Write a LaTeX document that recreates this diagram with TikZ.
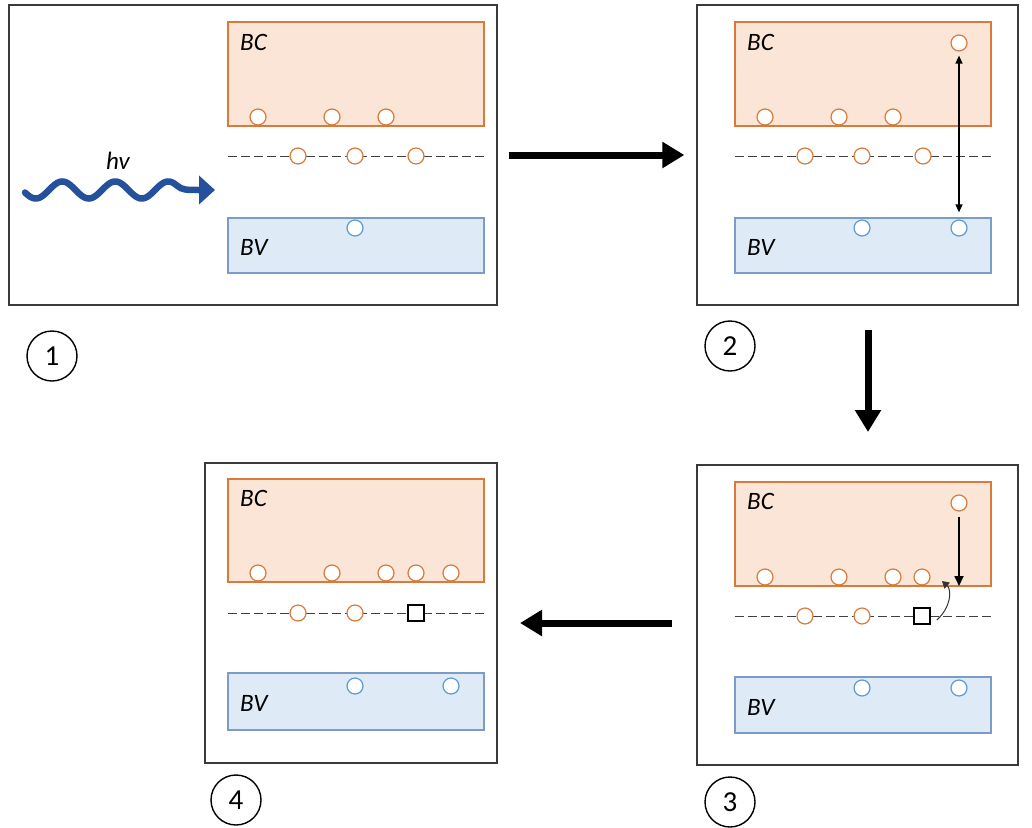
\documentclass[tikz,border=0pt]{standalone}
\usepackage{fontspec}
\setmainfont{Carlito}
\usetikzlibrary{arrows.meta}
\definecolor{orD}{HTML}{D9793A}
\definecolor{orL}{HTML}{FBE5D6}
\definecolor{blD}{HTML}{7C9CC8}
\definecolor{blL}{HTML}{DEEAF6}
\definecolor{blC}{HTML}{5B9BD5}
\definecolor{wave}{HTML}{24509C}
\definecolor{frame}{HTML}{3A3A3A}
\tikzset{
  panel/.style={draw=frame, line width=1.3pt, minimum height=300pt, inner sep=0pt},
  bcbox/.style={draw=orD, fill=orL, line width=1.2pt, minimum width=256pt, inner sep=0pt},
  bvbox/.style={draw=blD, fill=blL, line width=1.2pt, minimum width=256pt, inner sep=0pt},
  ec/.style={circle, draw=orD, fill=white, line width=1.2pt, minimum size=16pt, inner sep=0pt},
  hc/.style={circle, draw=blC, fill=white, line width=1.2pt, minimum size=16pt, inner sep=0pt},
  trap/.style={draw=black, fill=white, line width=1.8pt, minimum size=16pt, inner sep=0pt},
  numc/.style={circle, draw=black, line width=1.4pt, minimum size=50pt, inner sep=0pt, font=\fontsize{29}{32}\selectfont},
  lab/.style={anchor=west, inner sep=0pt, font=\fontsize{25}{28}\selectfont\itshape},
  dline/.style={draw=black!75, line width=1pt, dash pattern=on 9pt off 4pt},
  bigarrow/.style={line width=7pt, -{Triangle[length=22pt,width=25pt]}},
}
\begin{document}
\begin{tikzpicture}[x=1pt,y=-1pt]
\useasboundingbox (0,0) rectangle (1032,827);
% ---------- Panel 1 ----------
\node[panel, minimum width=488pt] (P1) at (253,155) {};
\node[bcbox, minimum height=104pt] (BC1) at (356,74) {};
\node[bvbox, minimum height=55pt] (BV1) at (356,245.5) {};
\node[lab] (bcl1) at (240,42) {BC};
\node[lab] (bvl1) at (240,247) {BV};
\draw[dline] (228,156) -- (485,156);
\node[ec] (c1a) at (258,117) {};
\node[ec] (c1b) at (332,117) {};
\node[ec] (c1c) at (386,117) {};
\node[ec] (d1a) at (298,156) {};
\node[ec] (d1b) at (355,156) {};
\node[ec] (d1c) at (416,156) {};
\node[hc] (v1a) at (355,228) {};
\draw[wave, line width=6.5pt, line cap=round, -{Triangle[length=16pt,width=28pt]}]
  plot[domain=25:177, samples=120, smooth] (\x,{190-8.5*sin(6.79*(\x-49))})
  .. controls (182,190) and (186,190) .. (215,190);
\node[inner sep=0pt, font=\fontsize{25}{28}\selectfont\itshape] (hv) at (118,161) {hv};
\node[numc] (n1) at (52,356) {1};
% ---------- Panel 2 ----------
\node[panel, minimum width=321pt] (P2) at (857.5,155) {};
\node[bcbox, minimum height=104pt] (BC2) at (863,74) {};
\node[bvbox, minimum height=55pt] (BV2) at (863,245.5) {};
\node[lab] (bcl2) at (747,42) {BC};
\node[lab] (bvl2) at (747,247) {BV};
\draw[dline] (735,156) -- (992,156);
\node[ec] (c2a) at (765,117) {};
\node[ec] (c2b) at (839,117) {};
\node[ec] (c2c) at (893,117) {};
\node[ec] (t2) at (959,43) {};
\node[ec] (d2a) at (805,156) {};
\node[ec] (d2b) at (862,156) {};
\node[ec] (d2c) at (923,156) {};
\node[hc] (v2a) at (862,228) {};
\node[hc] (v2b) at (959,228) {};
\draw[line width=1.3pt, {Triangle[length=8pt,width=7pt]}-{Triangle[length=8pt,width=7pt]}, shorten <=4pt, shorten >=7pt] (t2.south) -- (v2b.north);
\node[numc] (n2) at (730,346) {2};
% ---------- Panel 3 ----------
\node[panel, minimum width=321pt] (P3) at (857.5,615) {};
\node[bcbox, minimum height=104pt] (BC3) at (863,534) {};
\node[bvbox, minimum height=56pt] (BV3) at (863,705) {};
\node[lab] (bcl3) at (747,501) {BC};
\node[lab] (bvl3) at (747,707) {BV};
\draw[dline] (735,616) -- (992,616);
\node[ec] (c3a) at (765,577) {};
\node[ec] (c3b) at (839,577) {};
\node[ec] (c3c) at (893,577) {};
\node[ec] (c3d) at (922,577) {};
\node[ec] (t3) at (959,503) {};
\node[ec] (d3a) at (805,616) {};
\node[ec] (d3b) at (862,616) {};
\node[trap] (s3) at (922,616) {};
\node[hc] (v3a) at (862,688) {};
\node[hc] (v3b) at (959,688) {};
\coordinate (e3) at (959,586);
\draw[line width=1.8pt, -{Triangle[length=10pt,width=9pt]}, shorten <=5pt] (t3.south) -- (e3);
\coordinate (k3) at (942,581);
\draw[line width=1pt, draw=black!80, -{Triangle[length=7pt,width=8pt]}] ([xshift=6pt,yshift=-4pt]s3.east) .. controls (951,607) and (952,590) .. (k3);
\node[numc] (n3) at (730,802) {3};
% ---------- Panel 4 ----------
\node[panel, minimum width=292pt] (P4) at (351,613) {};
\node[bcbox, minimum height=103pt] (BC4) at (356,530.5) {};
\node[bvbox, minimum height=57pt] (BV4) at (356,701.5) {};
\node[lab] (bcl4) at (240,498) {BC};
\node[lab] (bvl4) at (240,703) {BV};
\draw[dline] (228,613) -- (485,613);
\node[ec] (c4a) at (258,573) {};
\node[ec] (c4b) at (332,573) {};
\node[ec] (c4c) at (386,573) {};
\node[ec] (c4d) at (416,573) {};
\node[ec] (c4e) at (451,573) {};
\node[ec] (d4a) at (298,613) {};
\node[ec] (d4b) at (355,613) {};
\node[trap] (s4) at (416,613) {};
\node[hc] (v4a) at (355,686) {};
\node[hc] (v4b) at (451,686) {};
\node[numc] (n4) at (236,800) {4};
% ---------- Big arrows ----------
\draw[bigarrow, shorten <=11pt, shorten >=12pt] (P1.east) -- (P2.west);
\coordinate (a2s) at (868,330);
\coordinate (a2e) at (868,432);
\draw[bigarrow] (a2s) -- (a2e);
\coordinate (a3s) at (672,623);
\coordinate (a3e) at (520,623);
\draw[bigarrow] (a3s) -- (a3e);
\end{tikzpicture}
\end{document}
